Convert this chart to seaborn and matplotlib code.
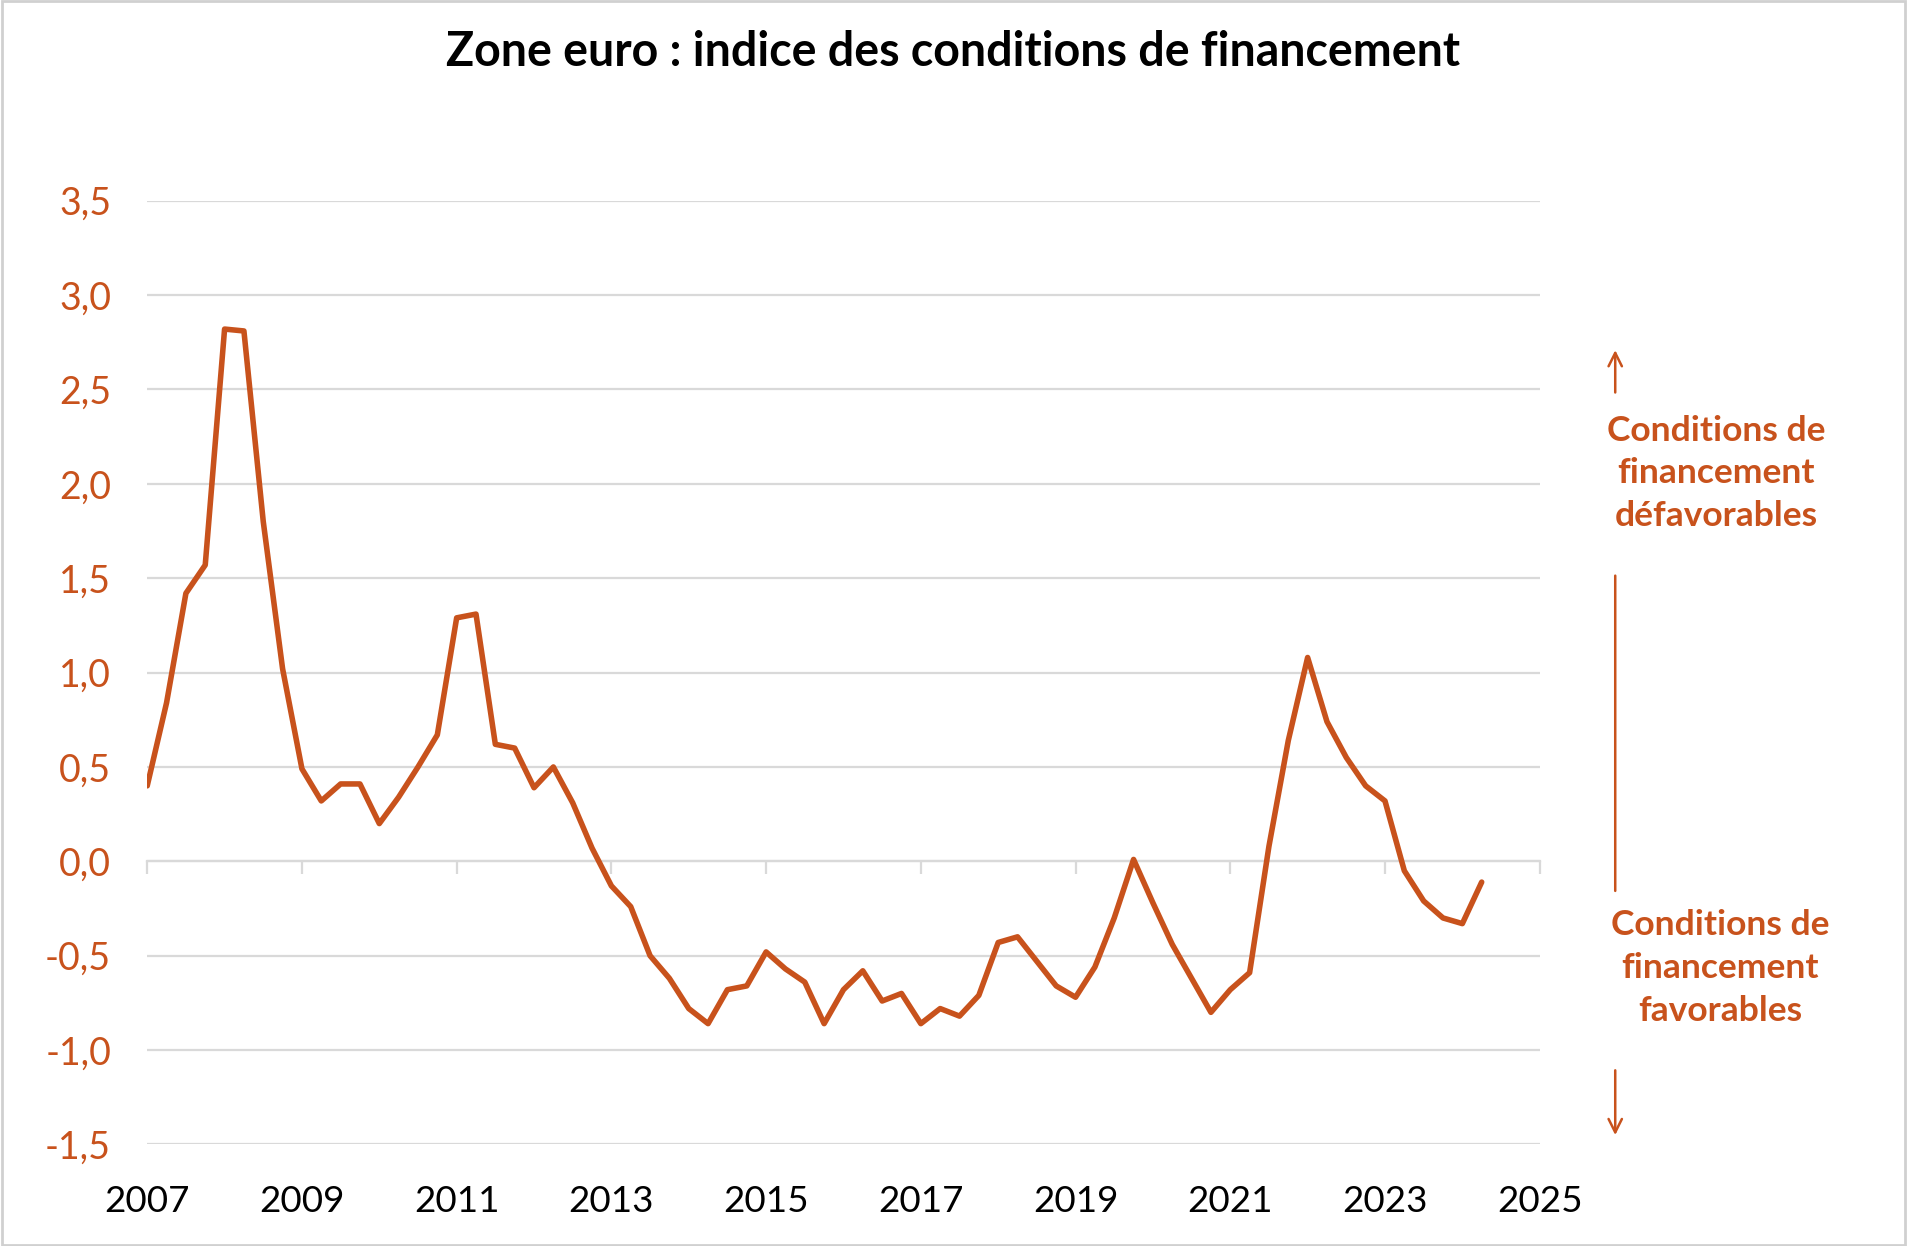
import numpy as np
import pandas as pd
import seaborn as sns
import matplotlib.pyplot as plt
from matplotlib.patches import Rectangle
from matplotlib.ticker import FuncFormatter

# Indice des conditions de financement, zone euro (trimestriel, 2007T1 - 2024T2)
trimestres = pd.period_range('2007Q1', '2024Q2', freq='Q')
indice = [
    0.40, 0.84, 1.42, 1.57, 2.82, 2.81, 1.80, 1.02,
    0.49, 0.32, 0.41, 0.41, 0.20, 0.34, 0.50, 0.67,
    1.29, 1.31, 0.62, 0.60, 0.39, 0.50, 0.31, 0.07,
    -0.13, -0.24, -0.50, -0.62, -0.78, -0.86, -0.68, -0.66,
    -0.48, -0.57, -0.64, -0.86, -0.68, -0.58, -0.74, -0.70,
    -0.86, -0.78, -0.82, -0.71, -0.43, -0.40, -0.53, -0.66,
    -0.72, -0.56, -0.30, 0.01, -0.22, -0.44, -0.62, -0.80,
    -0.68, -0.59, 0.08, 0.64, 1.08, 0.74, 0.55, 0.40,
    0.32, -0.05, -0.21, -0.30, -0.33, -0.11,
]
annees_ticks = list(range(2007, 2026, 2))
valeurs_y = [-1.5, -1.0, -0.5, 0.0, 0.5, 1.0, 1.5, 2.0, 2.5, 3.0, 3.5]

titre = 'Zone euro : indice des conditions de financement'
texte_haut = 'Conditions de\nfinancement\ndéfavorables'
texte_bas = 'Conditions de\nfinancement\nfavorables'

orange = '#C8521C'
gris = '#D9D9D9'

df = pd.DataFrame({
    'date': [t.year + (t.quarter - 1) / 4 for t in trimestres],
    'indice': indice,
})

sns.set_style('white')
plt.rcParams['font.family'] = ['Lato', 'DejaVu Sans']

fig = plt.figure(figsize=(19.07, 12.46), dpi=100)
ax = fig.add_axes([0.0772, 0.0815, 0.7302, 0.7574])

sns.lineplot(data=df, x='date', y='indice', color=orange, linewidth=4.0, ax=ax)

ax.set_xlim(2007, 2025)
ax.set_ylim(-1.5, 3.5)
ax.set_yticks(valeurs_y)
ax.set_xticks(annees_ticks)
ax.yaxis.set_major_formatter(FuncFormatter(lambda v, p: f'{v:.1f}'.replace('.', ',')))
ax.grid(axis='y', color=gris, linewidth=1.6)
ax.grid(axis='x', visible=False)
for s in ax.spines.values():
    s.set_visible(False)
ax.tick_params(axis='y', length=0, pad=26, labelsize=27, labelcolor=orange)
ax.tick_params(axis='x', length=0, pad=29, labelsize=26.5, labelcolor='black')
ax.set_xlabel('')
ax.set_ylabel('')

# axe horizontal au niveau zéro avec graduations
sec = ax.secondary_xaxis(1.5 / 5.0)
sec.set_xticks(annees_ticks)
sec.tick_params(axis='x', direction='out', length=9, width=1.6, color=gris, labelbottom=False, labeltop=False)
sec.spines['bottom'].set_color(gris)
sec.spines['bottom'].set_linewidth(1.6)

fig.text(0.5, 0.958, titre, ha='center', va='center', fontsize=33.5, fontweight='bold', color='black')

fig.text(0.900, 0.620, texte_haut, ha='center', va='center', fontsize=25.5, fontweight='bold',
         color=orange, linespacing=1.42)
fig.text(0.902, 0.223, texte_bas, ha='center', va='center', fontsize=25.5, fontweight='bold',
         color=orange, linespacing=1.42)

fl = dict(color=orange, lw=1.8, shrinkA=0, shrinkB=0)
ax.annotate('', xy=(0.847, 0.719), xytext=(0.847, 0.685), xycoords='figure fraction',
            textcoords='figure fraction', arrowprops=dict(arrowstyle='->', mutation_scale=24, **fl))
ax.annotate('', xy=(0.847, 0.285), xytext=(0.847, 0.538), xycoords='figure fraction',
            textcoords='figure fraction', arrowprops=dict(arrowstyle='-', **fl))
ax.annotate('', xy=(0.847, 0.089), xytext=(0.847, 0.141), xycoords='figure fraction',
            textcoords='figure fraction', arrowprops=dict(arrowstyle='->', mutation_scale=24, **fl))

fig.add_artist(Rectangle((0.001, 0.001), 0.998, 0.998, transform=fig.transFigure,
                         fill=False, edgecolor='#D0D0D0', linewidth=2))

fig.savefig('out.png', dpi=100)
